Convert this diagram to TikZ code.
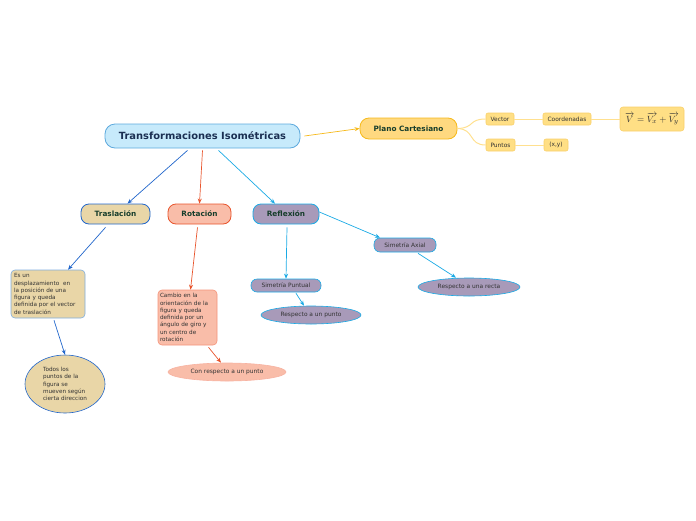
\documentclass[tikz,border=0pt]{standalone}
\usepackage{fontspec}
\setmainfont{DejaVu Sans}
\usetikzlibrary{arrows.meta,shapes.geometric}
\definecolor{tfill}{HTML}{C7EAFB}
\definecolor{tdraw}{HTML}{5DA9DD}
\definecolor{ttext}{HTML}{1B2F52}
\definecolor{gtext}{HTML}{163D2B}
\definecolor{pfill}{HTML}{FFD980}
\definecolor{pdraw}{HTML}{F6B91A}
\definecolor{yfill}{HTML}{FFDF85}
\definecolor{ydraw}{HTML}{F9D06A}
\definecolor{yline}{HTML}{FFE08F}
\definecolor{sfill}{HTML}{E9D6A7}
\definecolor{sblue}{HTML}{2166CB}
\definecolor{sdesc}{HTML}{7FAEDF}
\definecolor{rfill}{HTML}{F9BDA9}
\definecolor{rdraw}{HTML}{E8542C}
\definecolor{rdesc}{HTML}{F4937A}
\definecolor{lfill}{HTML}{A89AB9}
\definecolor{ldraw}{HTML}{1AAAE5}
\definecolor{stext}{HTML}{333333}
\tikzset{
  box/.style={draw, line width=0.8pt, inner sep=0pt, align=center},
  mainbox/.style={box, fill=tfill, draw=tdraw, rounded corners=10pt, text=ttext,
    font=\fontsize{9.9}{11}\selectfont\bfseries},
  catbox/.style={box, rounded corners=8pt, text=gtext, font=\fontsize{7.3}{8}\selectfont\bfseries},
  ybox/.style={box, fill=yfill, draw=ydraw, line width=0.6pt, rounded corners=2pt, text=stext,
    font=\fontsize{5.9}{6.5}\selectfont},
  smallbox/.style={box, line width=0.6pt, text=stext, font=\fontsize{5.9}{6.5}\selectfont},
  desc/.style={box, line width=0.6pt, rounded corners=4pt, text=stext, align=left,
    font=\fontsize{5.7}{7.3}\selectfont},
  oval/.style={ellipse, box, line width=0.6pt, text=stext, font=\fontsize{5.9}{6.5}\selectfont},
  arr/.style={-{Stealth[length=5pt,width=4pt]}, line width=0.7pt},
  yl/.style={yline, line width=1pt},
}
\begin{document}
\begin{tikzpicture}[x=1pt,y=-1pt]
\useasboundingbox (0,0) rectangle (696,520);
% nodes
\node[mainbox, minimum width=195, minimum height=24] (title) at (202.5,136) {Transformaciones Isométricas};
\node[catbox, fill=pfill, draw=pdraw, rounded corners=9pt, minimum width=97, minimum height=21] (plano) at (408.5,128.5) {Plano Cartesiano};
\node[ybox, minimum width=28, minimum height=12] (vector) at (500,119) {Vector};
\node[ybox, minimum width=48, minimum height=12] (coord) at (567,119) {Coordenadas};
\node[ybox, rounded corners=3pt, minimum width=64, minimum height=24, font=\fontsize{9.5}{10}\selectfont] (formula) at (652,119) {$\overrightarrow{V}=\overrightarrow{V_x}+\overrightarrow{V_y}$};
\node[ybox, minimum width=29, minimum height=12] (puntos) at (500.5,145) {Puntos};
\node[ybox, minimum width=24, minimum height=12] (xy) at (556,145) {(x,y)};

\node[catbox, fill=sfill, draw=sblue, minimum width=69, minimum height=20] (tras) at (115.5,214) {Traslación};
\node[catbox, fill=rfill, draw=rdraw, minimum width=63, minimum height=20] (rot) at (199.5,214) {Rotación};
\node[catbox, fill=lfill, draw=ldraw, minimum width=66, minimum height=20] (refl) at (286,214) {Reflexión};

\node[desc, fill=sfill, draw=sdesc, minimum width=74, minimum height=48, text width=68] (trasd) at (48,294) {Es un\\desplazamiento~ en\\la posición de una\\figura y queda\\definida por el vector\\de traslación};
\node[oval, fill=sfill, draw=sblue, minimum width=80, minimum height=58, align=left, font=\fontsize{5.7}{7.2}\selectfont] (trase) at (65,384) {Todos los\\puntos de la\\figura se\\mueven según\\cierta direccion};

\node[desc, fill=rfill, draw=rdesc, minimum width=59, minimum height=55, text width=55] (rotd) at (187.5,317.5) {Cambio en la\\orientación de la\\figura y queda\\definida por un\\ángulo de giro y\\un centro de\\rotación};
\node[oval, fill=rfill, draw=rdesc!70, minimum width=118, minimum height=18] (rote) at (227,372) {Con respecto a un punto};

\node[smallbox, fill=lfill, draw=ldraw, rounded corners=6pt, minimum width=62, minimum height=14] (axial) at (405,245) {Simetría Axial};
\node[oval, fill=lfill, draw=ldraw, minimum width=102, minimum height=18] (recta) at (469,287) {Respecto a una recta};
\node[smallbox, fill=lfill, draw=ldraw, rounded corners=6pt, minimum width=70, minimum height=13] (puntual) at (286,285.5) {Simetría Puntual};
\node[oval, fill=lfill, draw=ldraw, minimum width=100, minimum height=18] (punto) at (311,315) {Respecto a un punto};

% connectors
\draw[arr, pdraw] ([xshift=4pt]title.east) -- (plano.west);
\draw[arr, sblue] ([xshift=-15pt,yshift=-2pt]title.south) -- ([xshift=12pt]tras.north);
\draw[arr, rdraw] ([yshift=-2pt]title.south) -- (rot.north);
\draw[arr, ldraw] ([xshift=16pt,yshift=-2pt]title.south) -- ([xshift=-11pt]refl.north);
\draw[arr, sblue] ([xshift=-10pt,yshift=-3pt]tras.south) -- ([xshift=20pt]trasd.north);
\draw[arr, sblue] ([xshift=6pt,yshift=-2pt]trasd.south) -- (trase.north);
\draw[arr, rdraw] ([xshift=-2pt,yshift=-3pt]rot.south) -- ([xshift=3pt]rotd.north);
\draw[arr, rdraw] ([xshift=21pt,yshift=-2pt]rotd.south) -- ([xshift=-6pt]rote.north);
\draw[arr, ldraw] ([xshift=1pt,yshift=-3pt]refl.south) -- (puntual.north);
\draw[arr, ldraw] ([yshift=2pt]refl.east) -- ([xshift=-25pt]axial.north);
\draw[arr, ldraw] ([xshift=10pt,yshift=-1pt]puntual.south) -- ([xshift=-7pt]punto.north);
\draw[arr, ldraw] ([xshift=13pt,yshift=-1pt]axial.south) -- ([xshift=-13pt]recta.north);

\draw[yl] (plano.east) .. controls (475,128) and (468,119) .. (vector.west);
\draw[yl] (plano.east) .. controls (475,129) and (468,145) .. (puntos.west);
\draw[yl] (vector.east) -- (coord.west);
\draw[yl] (coord.east) -- (formula.west);
\draw[yl] (puntos.east) -- (xy.west);
\end{tikzpicture}
\end{document}
